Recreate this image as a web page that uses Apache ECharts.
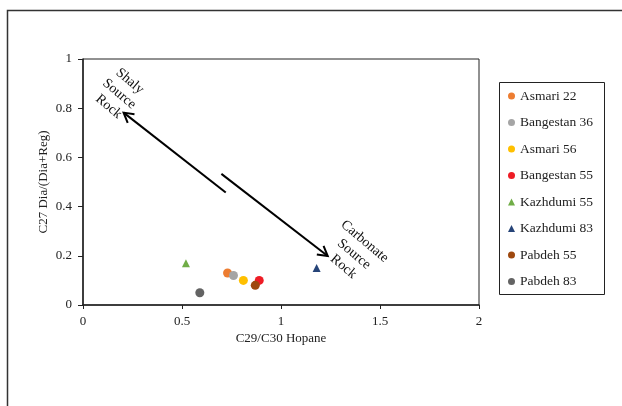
<!DOCTYPE html>
<html>
<head>
<meta charset="utf-8">
<script src="https://cdn.jsdelivr.net/npm/echarts@6/dist/echarts.min.js"></script>
<style>html,body{margin:0;padding:0;background:#fff}#c{width:622px;height:406px}</style>
</head>
<body>
<div id="c"></div>
<script>
// Data
var seriesNames = ['Asmari 22','Bangestan 36','Asmari 56','Bangestan 55','Kazhdumi 55','Kazhdumi 83','Pabdeh 55','Pabdeh 83'];
var xValues = [0.73, 0.76, 0.81, 0.89, 0.52, 1.18, 0.87, 0.59];  // C29/C30 Hopane
var yValues = [0.13, 0.12, 0.10, 0.10, 0.17, 0.15, 0.08, 0.05];  // C27 Dia/(Dia+Reg)
var symbols = ['circle','circle','circle','circle','triangle','triangle','circle','circle'];
var colors = ['#ED7D31','#A5A5A5','#FFC000','#EE1C25','#70AD47','#264478','#9E480E','#636363'];
// Arrows: [xFrom, yFrom, xTo, yTo]
var arrows = [[0.721, 0.457, 0.205, 0.782], [0.699, 0.533, 1.236, 0.199]];
// Annotation labels: [x, y, text]
var notes = [[0.183, 0.858, 'Shaly\nSource\nRock'], [1.369, 0.207, 'Carbonate\nSource\nRock']];
var xTicks = {min: 0, max: 2, interval: 0.5};
var yTicks = {min: 0, max: 1, interval: 0.2};

var FONT = 'Liberation Serif';
var chart = echarts.init(document.getElementById('c'), null, {renderer: 'canvas'});

var series = seriesNames.map(function (n, i) {
  return {
    name: n, type: 'scatter',
    symbol: symbols[i],
    symbolSize: symbols[i] === 'triangle' ? 8 : 9,
    itemStyle: {color: colors[i], opacity: 1},
    data: [[xValues[i], yValues[i]]],
    z: 3
  };
});

series.push({
  type: 'custom', name: 'arrows', silent: true, clip: false,
  encode: {x: [0, 2], y: [1, 3]},
  data: arrows,
  renderItem: function (params, api) {
    var p1 = api.coord([api.value(0), api.value(1)]);
    var p2 = api.coord([api.value(2), api.value(3)]);
    var ang = Math.atan2(p1[1] - p2[1], p1[0] - p2[0]);
    var L = 11, a = Math.PI / 6;
    var h1 = [p2[0] + L * Math.cos(ang + a), p2[1] + L * Math.sin(ang + a)];
    var h2 = [p2[0] + L * Math.cos(ang - a), p2[1] + L * Math.sin(ang - a)];
    var st = {stroke: '#000', lineWidth: 2, fill: null};
    return {type: 'group', children: [
      {type: 'line', shape: {x1: p1[0], y1: p1[1], x2: p2[0], y2: p2[1]}, style: st},
      {type: 'polyline', shape: {points: [h1, p2, h2]}, style: st}
    ]};
  },
  z: 2
});

series.push({
  type: 'custom', name: 'notes', silent: true, clip: false,
  encode: {x: 0, y: 1},
  data: notes,
  renderItem: function (params, api) {
    var p = api.coord([api.value(0), api.value(1)]);
    return {
      type: 'text', x: p[0], y: p[1], rotation: -40 * Math.PI / 180,
      style: {text: notes[params.dataIndex][2], x: 0, y: 0, align: 'center', verticalAlign: 'middle',
        font: '14px "' + FONT + '"', lineHeight: 16.5, fill: '#111'}
    };
  },
  z: 2
});

var option = {
  backgroundColor: '#fff',
  animation: false,
  textStyle: {fontFamily: FONT},
  grid: {left: 83, right: 143, top: 59, bottom: 101, show: true, borderColor: '#222', borderWidth: 1, backgroundColor: 'transparent'},
  xAxis: {
    type: 'value', min: xTicks.min, max: xTicks.max, interval: xTicks.interval,
    name: 'C29/C30 Hopane', nameLocation: 'middle', nameGap: 27, nameMoveOverlap: false,
    nameTextStyle: {fontFamily: FONT, fontSize: 13, color: '#222'},
    axisLine: {show: true, onZero: false, lineStyle: {color: '#222', width: 1.5}},
    axisTick: {show: true, length: 4, lineStyle: {color: '#222'}},
    axisLabel: {fontFamily: FONT, fontSize: 13, color: '#222', margin: 10},
    splitLine: {show: false}
  },
  yAxis: {
    type: 'value', min: yTicks.min, max: yTicks.max, interval: yTicks.interval,
    name: 'C27 Dia/(Dia+Reg)', nameLocation: 'middle', nameGap: 33, nameMoveOverlap: false,
    nameTextStyle: {fontFamily: FONT, fontSize: 13, color: '#222'},
    axisLine: {show: true, onZero: false, lineStyle: {color: '#222', width: 1.5}},
    axisTick: {show: true, length: 5, lineStyle: {color: '#222'}},
    axisLabel: {fontFamily: FONT, fontSize: 13, color: '#222', margin: 11},
    splitLine: {show: false}
  },
  legend: {
    data: seriesNames,
    orient: 'vertical', left: 508, top: 89,
    padding: 0, itemWidth: 7, itemHeight: 7, itemGap: 12.5,
    textStyle: {fontFamily: FONT, fontSize: 13.5, color: '#222', lineHeight: 14}
  },
  graphic: [
    {type: 'rect', shape: {x: 7.5, y: 10.5, width: 700, height: 500}, style: {fill: null, stroke: '#333', lineWidth: 1.5}, silent: true},
    {type: 'rect', shape: {x: 499.5, y: 82.5, width: 105, height: 212}, style: {fill: null, stroke: '#222', lineWidth: 1}, silent: true}
  ],
  series: series
};
chart.setOption(option);
</script>
</body>
</html>
